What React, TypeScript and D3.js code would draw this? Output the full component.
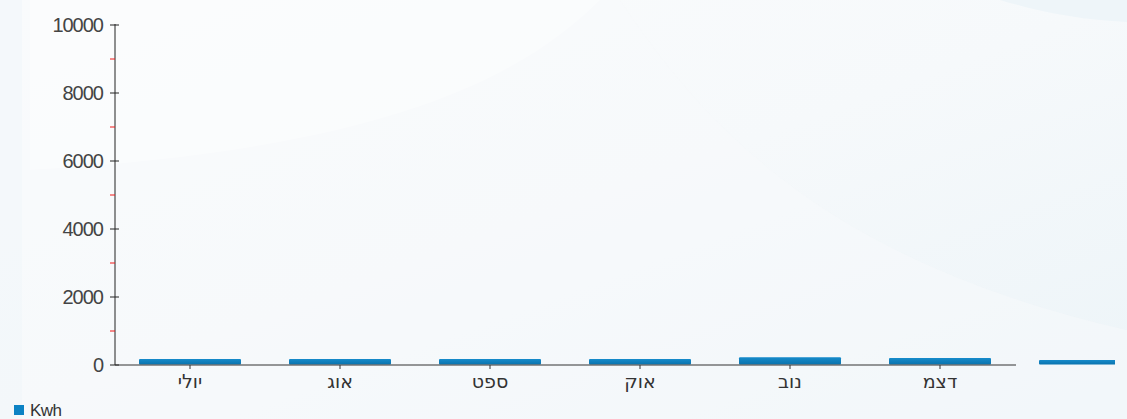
import React from "react";
import * as d3 from "d3";

const categories = ["יולי", "אוג", "ספט", "אוק", "נוב", "דצמ", "ינו"];
const tickLabels = ["יולי", "אוג", "ספט", "אוק", "נוב", "דצמ"];
const kwhValues = [180, 180, 175, 175, 230, 205, 150];
const majorTicks = [0, 2000, 4000, 6000, 8000, 10000];
const minorTicks = [1000, 3000, 5000, 7000, 9000];
const seriesName = "Kwh";

const W = 1127;
const H = 419;

export default function App() {
  const x = d3
    .scaleBand<string>()
    .domain(categories)
    .range([115, 115 + 150 * categories.length])
    .paddingInner(0.32)
    .paddingOuter(0.16);
  const y = d3.scaleLinear().domain([0, 10000]).range([365, 25]);
  const axisEnd = x.step() * tickLabels.length + 115 + 1;
  const font = "'Liberation Sans', Arial, sans-serif";
  const hebFont = "'DejaVu Sans', sans-serif";

  return (
    <svg
      width={W}
      height={H}
      style={{ position: "fixed", left: 0, top: 0, display: "block" }}
    >
      <defs>
        <linearGradient id="bg" x1="0" y1="0" x2="1" y2="1">
          <stop offset="0" stopColor="#fbfcfd" />
          <stop offset="0.5" stopColor="#f6f9fb" />
          <stop offset="1" stopColor="#ecf4f8" />
        </linearGradient>
        <linearGradient id="bar" x1="0" y1="0" x2="0" y2="1">
          <stop offset="0" stopColor="#168bcb" />
          <stop offset="1" stopColor="#0a73ad" />
        </linearGradient>
        <clipPath id="clip">
          <rect x={0} y={0} width={1115} height={H} />
        </clipPath>
      </defs>
      <rect x={0} y={0} width={W} height={H} fill="url(#bg)" />
      <path d="M0,0 L620,0 C700,120 820,260 1127,330 L1127,419 L0,419 Z" fill="#f7fafc" opacity={0.5} />
      <path d="M30,0 L600,0 C520,80 380,150 30,170 Z" fill="#ffffff" opacity={0.35} />
      <path d="M1000,0 L1127,0 L1127,22 C1080,20 1040,12 1000,0 Z" fill="#eef5f9" />
      <rect x={0} y={0} width={22} height={H} fill="#f0f5f9" opacity={0.5} />

      {/* bars */}
      <g clipPath="url(#clip)">
        {categories.map((c, i) => (
          <rect
            key={c}
            x={x(c)}
            y={y(kwhValues[i])}
            width={x.bandwidth()}
            height={y(0) - y(kwhValues[i]) - 0.5}
            fill="url(#bar)"
            rx={1}
          />
        ))}
      </g>

      {/* y axis */}
      <line x1={115} x2={115} y1={y(10000) - 1} y2={y(0)} stroke="#222" strokeWidth={1} />
      {majorTicks.map((t) => (
        <g key={t}>
          <line x1={110} x2={119} y1={y(t)} y2={y(t)} stroke="#222" strokeWidth={1} />
          <text
            x={103}
            y={y(t)}
            dy="0.35em"
            textAnchor="end"
            fontFamily={font}
            fontSize={20}
            letterSpacing={-1}
            fill="#444"
          >
            {t}
          </text>
        </g>
      ))}
      {minorTicks.map((t) => (
        <line key={t} x1={110} x2={115} y1={y(t)} y2={y(t)} stroke="#f01818" strokeWidth={1} />
      ))}

      {/* x axis */}
      <line x1={115} x2={axisEnd} y1={y(0)} y2={y(0)} stroke="#333" strokeWidth={1} />
      {tickLabels.map((l, i) => {
        const cx = (x(categories[i]) as number) + x.bandwidth() / 2;
        return (
          <g key={l}>
            <line x1={cx} x2={cx} y1={y(0)} y2={y(0) + 4} stroke="#333" strokeWidth={1} />
            <text
              x={cx}
              y={388}
              textAnchor="middle"
              fontFamily={hebFont}
              fontSize={19}
              fill="#333"
            >
              {l}
            </text>
          </g>
        );
      })}

      {/* legend */}
      <rect x={14} y={405} width={10} height={10} fill="#0c82c4" />
      <text x={30} y={416} fontFamily={font} fontSize={17} letterSpacing={-0.5} fill="#333">
        {seriesName}
      </text>
    </svg>
  );
}
